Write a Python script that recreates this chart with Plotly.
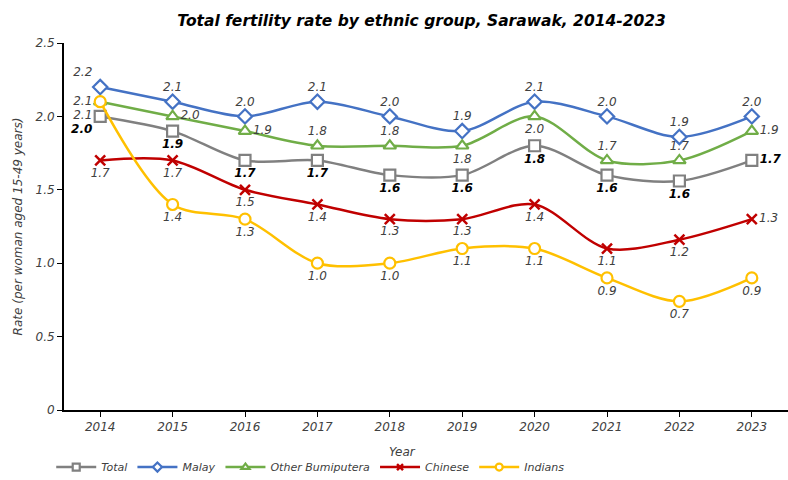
import plotly.graph_objects as go

years = ["2014", "2015", "2016", "2017", "2018", "2019", "2020", "2021", "2022", "2023"]
total = [2.0, 1.9, 1.7, 1.7, 1.6, 1.6, 1.8, 1.6, 1.56, 1.7]
malay = [2.2, 2.1, 2.0, 2.1, 2.0, 1.9, 2.1, 2.0, 1.86, 2.0]
other_bumi = [2.1, 2.0, 1.9, 1.8, 1.8, 1.8, 2.0, 1.7, 1.7, 1.9]
chinese = [1.7, 1.7, 1.5, 1.4, 1.3, 1.3, 1.4, 1.1, 1.16, 1.3]
indians = [2.1, 1.4, 1.3, 1.0, 1.0, 1.1, 1.1, 0.9, 0.74, 0.9]

y_ticks = [0, 0.5, 1.0, 1.5, 2.0, 2.5]
y_ticktext = ["0", "0.5", "1.0", "1.5", "2.0", "2.5"]

FONT = "DejaVu Sans"
LBL = "#404040"

pos_total = ["bottom left"] + ["bottom center"] * 8 + ["middle right"]
pos_malay = ["top left"] + ["top center"] * 9
pos_ob = ["bottom left", "middle right", "middle right", "top center", "top center",
          "bottom center", "bottom center", "top center", "top center", "middle right"]
pos_ch = ["bottom center"] * 9 + ["middle right"]
pos_in = ["middle left"] + ["bottom center"] * 9

series = [
    ("Total", total, "#808080", "square", pos_total, True),
    ("Malay", malay, "#4472C4", "diamond", pos_malay, False),
    ("Other Bumiputera", other_bumi, "#70AD47", "triangle-up", pos_ob, False),
    ("Chinese", chinese, "#C00000", "x-thin", pos_ch, False),
    ("Indians", indians, "#FFC000", "circle", pos_in, False),
]


def make_marker(sym, color, size):
    if sym == "x-thin":
        return dict(symbol=sym, size=size, line=dict(color=color, width=2.5), color=color)
    return dict(symbol=sym, size=size, color="white", line=dict(color=color, width=2.2))


fig = go.Figure()
for name, vals, color, sym, pos, bold in series:
    fig.add_trace(go.Scatter(
        x=years, y=vals, name=name, mode="lines+markers+text",
        line=dict(color=color, width=2.5, shape="spline", smoothing=0.9),
        marker=make_marker(sym, color, 10 if sym == "x-thin" else 11),
        text=[f"{v:.1f}" for v in vals],
        textposition=pos,
        cliponaxis=False,
        showlegend=False,
        hoverinfo="skip",
        textfont=dict(family=FONT, size=12, style="italic",
                      color="#000000" if bold else LBL,
                      weight="bold" if bold else "normal"),
    ))
# legend entries with smaller symbols
for name, vals, color, sym, pos, bold in series:
    fig.add_trace(go.Scatter(
        x=[None], y=[None], name=name, mode="lines+markers",
        line=dict(color=color, width=2.5),
        marker=make_marker(sym, color, 6 if sym == "x-thin" else 7),
        showlegend=True,
    ))

fig.update_layout(
    width=788, height=480,
    margin=dict(l=64, r=0, t=43, b=70, autoexpand=False),
    paper_bgcolor="white", plot_bgcolor="white",
    font=dict(family=FONT, color=LBL, size=12),
    title=dict(text="<b><i>Total fertility rate by ethnic group, Sarawak, 2014-2023</i></b>",
               x=0.535, xanchor="center", y=0.958, yanchor="middle",
               font=dict(family=FONT, size=15.5, color="#000000")),
    showlegend=True,
    legend=dict(orientation="h", xref="container", x=0.065, xanchor="left",
                yref="container", y=0.027, yanchor="middle",
                font=dict(family=FONT, size=11, style="italic", color=LBL),
                itemwidth=40, traceorder="normal", tracegroupgap=0),
    xaxis=dict(type="category", range=[-0.5, 9.5], showgrid=False,
               showline=True, linecolor="#000000", linewidth=2,
               ticks="outside", ticklen=5, tickcolor="#000000",
               tickfont=dict(family=FONT, size=12, style="italic", color=LBL)),
    yaxis=dict(range=[0, 2.5], tickvals=y_ticks, ticktext=y_ticktext, showgrid=False,
               zeroline=False, showline=True, linecolor="#000000", linewidth=2,
               ticks="outside", ticklen=5, tickcolor="#000000",
               tickfont=dict(family=FONT, size=12, style="italic", color=LBL),
               title=dict(text="Rate (per woman aged 15-49 years)", standoff=10,
                          font=dict(family=FONT, size=12, style="italic", color=LBL))),
    annotations=[dict(text="Year", xref="paper", yref="paper", x=0.467, y=0,
                      yshift=-42, showarrow=False, yanchor="middle",
                      font=dict(family=FONT, size=12, style="italic", color=LBL))],
)

fig.write_html("out.html", config={"displayModeBar": False})

# remove the browser's default page margin so the figure fills the window
with open("out.html", "r", encoding="utf-8") as f:
    html = f.read()
html = html.replace("<body>", '<body style="margin:0;padding:0;overflow:hidden">', 1)
with open("out.html", "w", encoding="utf-8") as f:
    f.write(html)
